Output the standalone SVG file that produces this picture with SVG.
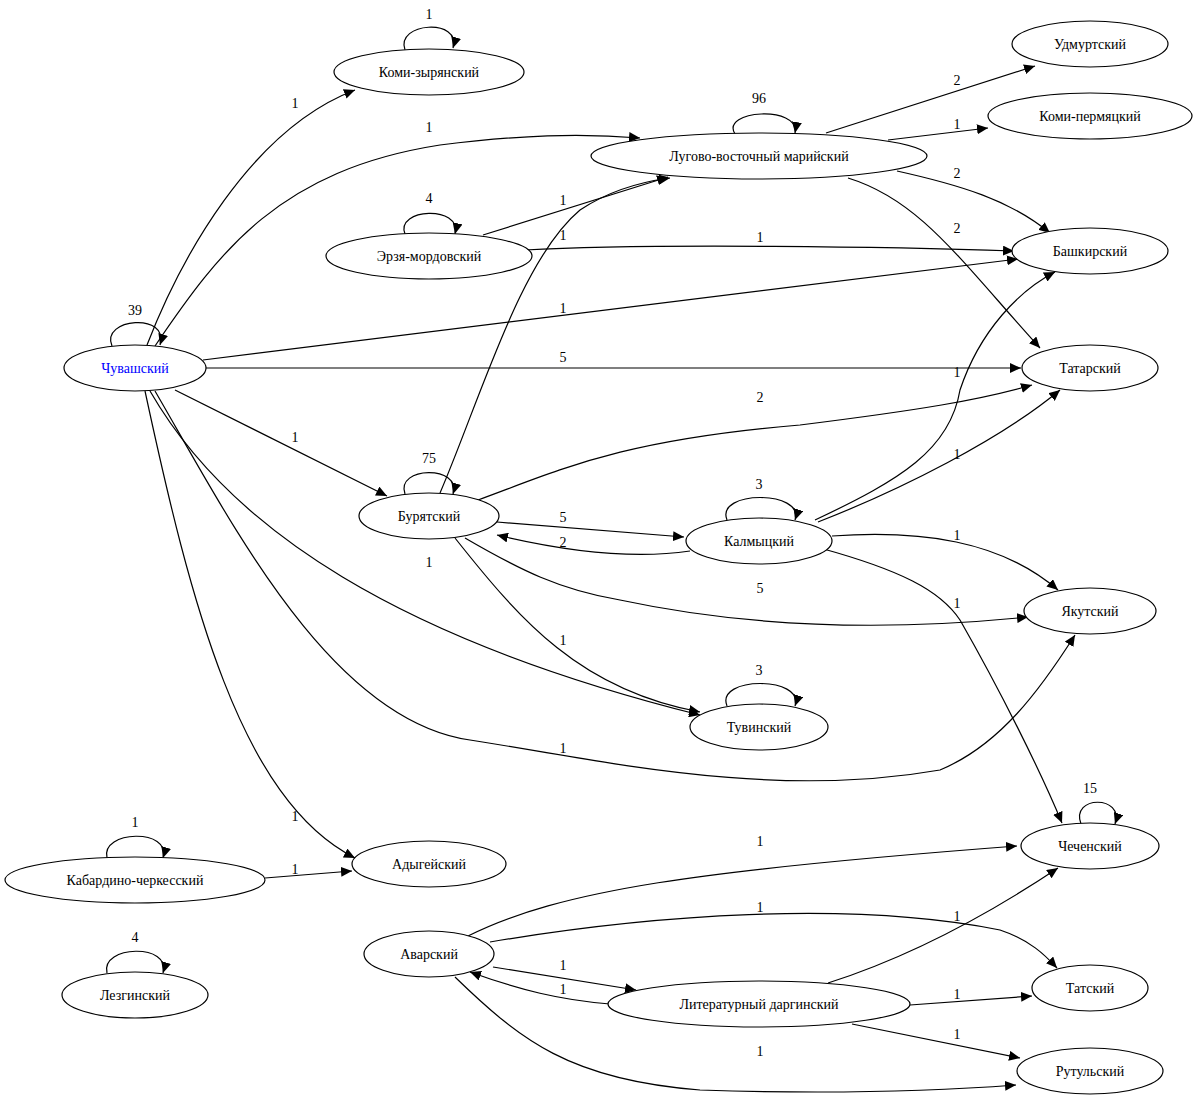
<svg xmlns="http://www.w3.org/2000/svg" width="1200" height="1101" viewBox="0 0 1200 1101">
<style>
ellipse{fill:#fff;stroke:#000;stroke-width:1.2}
text{font-family:"Liberation Serif",serif;font-size:14px;text-anchor:middle;fill:#000}
#edges path{fill:none;stroke:#000;stroke-width:1.2;marker-end:url(#a)}
.blue{fill:#0000ff}
</style>
<defs><marker id="a" markerUnits="userSpaceOnUse" markerWidth="12" markerHeight="10" refX="11" refY="5" orient="auto"><path d="M0,0 L11,5 L0,10 z" fill="#000"/></marker></defs>
<rect width="1200" height="1101" fill="#fff"/>
<g id="edges">
<path d="M405,50 C395,22 462,18 453,48"/><text x="429" y="19">1</text>
<path d="M147,345 C180,260 250,130 355,90"/><text x="295" y="108">1</text>
<path d="M155,346 C220,250 280,170 440,145 C520,135 580,133 640,138"/><text x="429" y="132">1</text>
<path d="M112,346 C100,318 170,312 160,345"/><text x="135" y="315">39</text>
<path d="M203,360 L1018,259"/><text x="563" y="313">1</text>
<path d="M206,368 L1021,368"/><text x="563" y="362">5</text>
<path d="M175,390 L387,496"/><text x="295" y="442">1</text>
<path d="M150,391 C230,530 400,640 700,715"/><text x="429" y="567">1</text>
<path d="M145,391 C190,600 240,800 355,858"/><text x="295" y="821">1</text>
<path d="M155,391 C230,520 330,720 470,740 C600,760 770,800 940,770 C1000,745 1040,690 1075,635"/><text x="563" y="753">1</text>
<path d="M735,134 C720,110 800,105 795,133"/><text x="759" y="103">96</text>
<path d="M826,133 L1035,66"/><text x="957" y="85">2</text>
<path d="M888,140 L988,128"/><text x="957" y="129">1</text>
<path d="M897,171 C960,185 1010,200 1050,233"/><text x="957" y="178">2</text>
<path d="M848,178 C920,200 960,260 1040,348"/><text x="957" y="233">2</text>
<path d="M405,234 C395,208 462,205 455,234"/><text x="429" y="203">4</text>
<path d="M483,235 L668,177"/><text x="563" y="205">1</text>
<path d="M525,250 C650,243 900,247 1014,251"/><text x="760" y="242">1</text>
<path d="M405,494 C395,466 462,465 453,494"/><text x="429" y="463">75</text>
<path d="M440,493 C480,400 520,260 580,210 C610,190 640,182 670,178"/><text x="563" y="240">1</text>
<path d="M478,500 C560,470 620,440 800,425 C920,410 980,400 1032,385"/><text x="760" y="402">2</text>
<path d="M497,522 L684,537"/><text x="563" y="522">5</text>
<path d="M690,551 C630,560 560,550 497,535"/><text x="563" y="547">2</text>
<path d="M465,538 C520,570 560,590 620,600 C760,630 900,630 1028,617"/><text x="760" y="593">5</text>
<path d="M455,538 C520,620 580,690 700,712"/><text x="563" y="645">1</text>
<path d="M727,520 C715,490 805,490 795,520"/><text x="759" y="489">3</text>
<path d="M815,520 C900,480 950,450 960,390 C980,330 1020,290 1055,272"/><text x="957" y="377">1</text>
<path d="M818,522 C900,490 1000,440 1060,390"/><text x="957" y="459">1</text>
<path d="M832,536 C920,530 1000,540 1058,590"/><text x="957" y="540">1</text>
<path d="M820,548 C900,570 940,590 960,620 C1000,690 1040,770 1062,823"/><text x="957" y="608">1</text>
<path d="M727,706 C715,676 805,676 795,706"/><text x="759" y="675">3</text>
<path d="M1081,824 C1070,795 1125,795 1115,824"/><text x="1090" y="793">15</text>
<path d="M107,858 C100,830 172,828 163,858"/><text x="135" y="827">1</text>
<path d="M265,878 L352,871"/><text x="295" y="874">1</text>
<path d="M107,973 C100,945 172,943 163,973"/><text x="135" y="942">4</text>
<path d="M468,936 C560,890 700,870 1017,846"/><text x="760" y="846">1</text>
<path d="M490,942 C650,915 850,900 1000,930 C1030,940 1045,955 1057,968"/><text x="760" y="912">1</text>
<path d="M493,967 L636,990"/><text x="563" y="970">1</text>
<path d="M610,1004 C560,1000 520,990 470,972"/><text x="563" y="994">1</text>
<path d="M455,977 C520,1040 570,1080 700,1090 C850,1095 950,1090 1016,1085"/><text x="760" y="1056">1</text>
<path d="M828,983 C900,960 980,920 1058,868"/><text x="957" y="921">1</text>
<path d="M910,1005 L1032,996"/><text x="957" y="999">1</text>
<path d="M852,1024 L1020,1058"/><text x="957" y="1039">1</text>
</g>
<g id="n1"><ellipse cx="429" cy="72" rx="95" ry="23"/><text x="429" y="77">Коми-зырянский</text></g>
<g id="n2"><ellipse cx="1090" cy="44" rx="78" ry="23"/><text x="1090" y="49">Удмуртский</text></g>
<g id="n3"><ellipse cx="759" cy="156" rx="168" ry="23"/><text x="759" y="161">Лугово-восточный марийский</text></g>
<g id="n4"><ellipse cx="1090" cy="116" rx="102" ry="23"/><text x="1090" y="121">Коми-пермяцкий</text></g>
<g id="n5"><ellipse cx="429" cy="256" rx="103" ry="23"/><text x="429" y="261">Эрзя-мордовский</text></g>
<g id="n6"><ellipse cx="1090" cy="251" rx="78" ry="23"/><text x="1090" y="256">Башкирский</text></g>
<g id="n7"><ellipse cx="135" cy="368" rx="71" ry="23"/><text x="135" y="373" class="blue">Чувашский</text></g>
<g id="n8"><ellipse cx="1090" cy="368" rx="68" ry="23"/><text x="1090" y="373">Татарский</text></g>
<g id="n9"><ellipse cx="429" cy="516" rx="70" ry="23"/><text x="429" y="521">Бурятский</text></g>
<g id="n10"><ellipse cx="759" cy="541" rx="73" ry="23"/><text x="759" y="546">Калмыцкий</text></g>
<g id="n11"><ellipse cx="1090" cy="611" rx="66" ry="23"/><text x="1090" y="616">Якутский</text></g>
<g id="n12"><ellipse cx="759" cy="727" rx="69" ry="23"/><text x="759" y="732">Тувинский</text></g>
<g id="n13"><ellipse cx="135" cy="880" rx="130" ry="23"/><text x="135" y="885">Кабардино-черкесский</text></g>
<g id="n14"><ellipse cx="429" cy="864" rx="77" ry="23"/><text x="429" y="869">Адыгейский</text></g>
<g id="n15"><ellipse cx="1090" cy="846" rx="69" ry="23"/><text x="1090" y="851">Чеченский</text></g>
<g id="n16"><ellipse cx="135" cy="995" rx="73" ry="23"/><text x="135" y="1000">Лезгинский</text></g>
<g id="n17"><ellipse cx="429" cy="954" rx="65" ry="23"/><text x="429" y="959">Аварский</text></g>
<g id="n18"><ellipse cx="1090" cy="988" rx="58" ry="23"/><text x="1090" y="993">Татский</text></g>
<g id="n19"><ellipse cx="759" cy="1004" rx="151" ry="23"/><text x="759" y="1009">Литературный даргинский</text></g>
<g id="n20"><ellipse cx="1090" cy="1071" rx="73" ry="23"/><text x="1090" y="1076">Рутульский</text></g>
</svg>
